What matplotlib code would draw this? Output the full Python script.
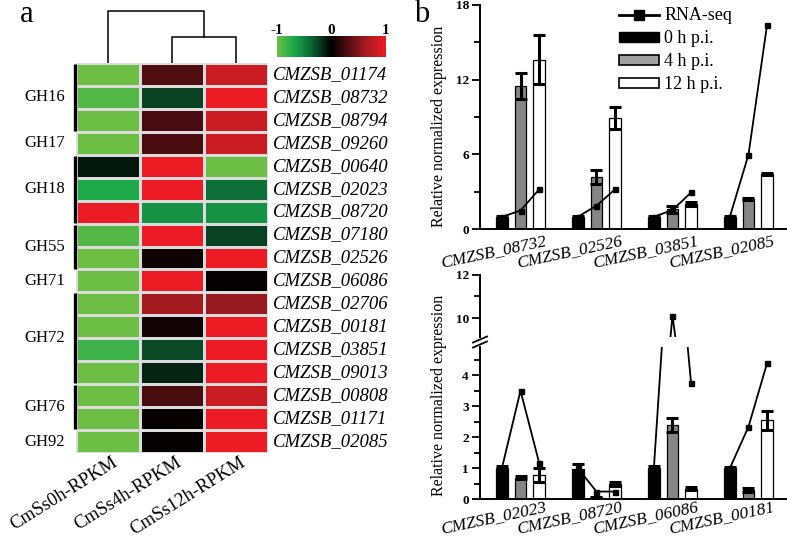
import numpy as np
import matplotlib
matplotlib.use('Agg')
import matplotlib.pyplot as plt
from matplotlib.colors import LinearSegmentedColormap
from matplotlib.lines import Line2D
from matplotlib.patches import Patch
from matplotlib.ticker import MultipleLocator

plt.rcParams['font.family'] = ['Liberation Serif', 'DejaVu Serif']

# ---------------- heatmap data ----------------
genes = ['CMZSB_01174', 'CMZSB_08732', 'CMZSB_08794', 'CMZSB_09260', 'CMZSB_00640',
         'CMZSB_02023', 'CMZSB_08720', 'CMZSB_07180', 'CMZSB_02526', 'CMZSB_06086',
         'CMZSB_02706', 'CMZSB_00181', 'CMZSB_03851', 'CMZSB_09013', 'CMZSB_00808',
         'CMZSB_01171', 'CMZSB_02085']
samples = ['CmSs0h-RPKM', 'CmSs4h-RPKM', 'CmSs12h-RPKM']
heat_0h = [-1, -0.9, -1, -1, -0.08, -0.7, 1, -0.9, -1, -1, -1, -1, -0.82, -1, -1, -1, -1]
heat_4h = [0.3, -0.25, 0.27, 0.28, 1, 1, -0.58, 1, 0.06, 1, 0.62, 0.07, -0.28, -0.13, 0.28, 0.02, 0.02]
heat_12h = [0.82, 1, 0.82, 0.82, -1, -0.42, -0.58, -0.25, 1, 0.01, 0.57, 1, 1, 1, 0.82, 1, 1]
families = ['GH16', 'GH17', 'GH18', 'GH55', 'GH71', 'GH72', 'GH76', 'GH92']
family_sizes = [3, 1, 3, 2, 1, 4, 2, 1]
dendro_low = 0.45   # merge of 4h and 12h
dendro_high = 0.9   # merge with 0h
cbar_ticks = [-1, 0, 1]

# ---------------- bar chart data ----------------
top_genes = ['CMZSB_08732', 'CMZSB_02526', 'CMZSB_03851', 'CMZSB_02085']
top_0h = [1.0, 1.0, 1.0, 1.0]
top_0h_err = [0.1, 0.08, 0.06, 0.08]
top_4h = [11.5, 4.2, 1.6, 2.43]
top_4h_err = [1.05, 0.55, 0.3, 0.08]
top_12h = [13.6, 8.9, 2.0, 4.43]
top_12h_err = [1.95, 0.9, 0.15, 0.08]
top_rna = [[1, 1.5, 3.2], [1, 1.9, 3.2], [1, 1.55, 2.95], [1, 5.98, 16.4]]

bot_genes = ['CMZSB_02023', 'CMZSB_08720', 'CMZSB_06086', 'CMZSB_00181']
bot_0h = [1.0, 0.97, 1.0, 1.0]
bot_0h_err = [0.06, 0.18, 0.06, 0.05]
bot_4h = [0.7, 0.06, 2.39, 0.3]
bot_4h_err = [0.06, 0.03, 0.22, 0.05]
bot_12h = [0.78, 0.5, 0.34, 2.55]
bot_12h_err = [0.22, 0.06, 0.05, 0.31]
bot_rna = [[1, 3.5, 1.18], [1, 0.25, 0.25], [1, 10.12, 3.74], [1, 2.34, 4.39]]

legend_labels = ['RNA-seq', '0 h p.i.', '4 h p.i.', '12 h p.i.']
ylabel = 'Relative normalized expression'

# ---------------- figure ----------------
W, H = 787, 538
fig = plt.figure(figsize=(W / 100, H / 100), dpi=100)


def pax(x0, y0, x1, y1):
    return fig.add_axes([x0 / W, 1 - y1 / H, (x1 - x0) / W, (y1 - y0) / H])


cmap = LinearSegmentedColormap.from_list('gkr', [
    (0.0, '#6DBE45'), (0.15, '#1DAA4B'), (0.3, '#0E6B38'),
    (0.5, '#000000'), (0.8, '#9E1B21'), (1.0, '#ED1C24')])

# heatmap
axh = pax(76, 63, 268, 453)
M = np.array([heat_0h, heat_4h, heat_12h]).T
axh.pcolormesh(M, cmap=cmap, vmin=-1, vmax=1, edgecolors='#dcdcdc', linewidth=0.9)
axh.set_xlim(0, 3)
axh.set_ylim(len(genes), 0)
axh.axis('off')
for i, g in enumerate(genes):
    axh.text(3.08, i + 0.5, g, fontsize=13.5, style='italic', ha='left', va='center')
start = 0
for fam, n in zip(families, family_sizes):
    if n > 1:
        axh.plot([-0.02, -0.02], [start + 0.04, start + n - 0.04], color='black', lw=2.4,
                 clip_on=False, solid_capstyle='butt')
    axh.text(-0.17, start + n / 2, fam, fontsize=12, ha='right', va='center')
    start += n
for j, s in enumerate(samples):
    axh.text(j + 0.56, len(genes) + 0.05, s, fontsize=13.5, rotation=32, ha='right', va='top',
             rotation_mode='anchor')

# dendrogram
axd = pax(76, 5, 268, 63)
axd.set_xlim(0, 3)
axd.set_ylim(0, 1)
axd.axis('off')
dk = dict(color='black', lw=1.1)
axd.plot([1.5, 1.5, 2.5, 2.5], [0, dendro_low, dendro_low, 0], **dk)
axd.plot([0.5, 0.5, 2.0, 2.0], [0, dendro_high, dendro_high, dendro_low], **dk)

# colorbar
axc = pax(277, 36, 386, 57)
axc.imshow(np.linspace(-1, 1, 256)[None, :], aspect='auto', cmap=cmap, extent=[-1, 1, 0, 1])
axc.set_xticks([])
axc.set_yticks([])
for s in axc.spines.values():
    s.set_visible(False)
for t in cbar_ticks:
    axc.text(t, 1.08, str(t), fontsize=11, fontweight='bold', ha='center', va='baseline',
             transform=axc.get_xaxis_transform())

fig.text(27 / W, 1 - 14 / H, 'a', fontsize=22, ha='center', va='center')
fig.text(422 / W, 1 - 14 / H, 'b', fontsize=22, ha='center', va='center')

# ---------------- bar panels ----------------
OFF = 0.245
BW = 0.15
XL = (-0.533, 3.507)
bar_colors = ['black', '#858585', 'white']
AX_L = 480


def style_axis(ax):
    for k in ['top', 'right']:
        ax.spines[k].set_visible(False)
    ax.spines['left'].set_linewidth(1.4)
    ax.spines['bottom'].set_linewidth(1.4)
    ax.tick_params(axis='y', which='major', length=6, width=1.3, labelsize=9.5, pad=2)
    ax.tick_params(axis='y', which='minor', length=4.5, width=1.3)
    ax.set_xticks([])
    for lab in ax.get_yticklabels():
        lab.set_fontweight('bold')


def draw_bars(ax, vals, errs):
    x = np.arange(4)
    for k, (v, e) in enumerate(zip(vals, errs)):
        xx = x + (k - 1) * OFF
        ax.bar(xx, v, width=BW, color=bar_colors[k], edgecolor='black', linewidth=0.9, zorder=2)
        ax.errorbar(xx, v, yerr=e, fmt='none', ecolor='black', elinewidth=2.2, capsize=4.2,
                    capthick=2.2, zorder=3)


def draw_rna(ax, rna):
    for g, r in enumerate(rna):
        ax.plot([g - OFF, g, g + OFF], r, '-s', color='black', lw=1.3, ms=3.6, zorder=4)


def group_labels(ax, names, dy):
    for g, n in enumerate(names):
        ax.annotate(n, xy=(g, 0), xycoords=('data', 'axes fraction'), xytext=(-19.5, dy),
                    textcoords='offset points', ha='center', va='center', rotation=12,
                    fontsize=12.5, style='italic')


# top
axt = pax(AX_L, 4.7, 787, 229.3)
draw_bars(axt, [top_0h, top_4h, top_12h], [top_0h_err, top_4h_err, top_12h_err])
draw_rna(axt, top_rna)
axt.set_xlim(*XL)
axt.set_ylim(0, 18)
axt.yaxis.set_major_locator(MultipleLocator(6))
axt.yaxis.set_minor_locator(MultipleLocator(3))
style_axis(axt)
group_labels(axt, top_genes, -16.5)
handles = [Line2D([], [], color='black', lw=2, marker='s', ms=7),
           Patch(facecolor='black', edgecolor='black'),
           Patch(facecolor='#a0a0a0', edgecolor='black', linewidth=1.2),
           Patch(facecolor='white', edgecolor='black', linewidth=1.2)]
axt.legend(handles, legend_labels, loc='upper left', bbox_to_anchor=(0.43, 1.02), frameon=False,
           fontsize=13, handlelength=2.2, handleheight=0.45, labelspacing=0.33, handletextpad=0.3,
           borderaxespad=0)
fig.text(439 / W, 1 - 126 / H, ylabel, fontsize=11.5, rotation=90, ha='center', va='center')

# bottom (broken axis)
axu = pax(AX_L, 274.7, 787, 337)
axl = pax(AX_L, 347, 787, 499.3)
draw_bars(axl, [bot_0h, bot_4h, bot_12h], [bot_0h_err, bot_4h_err, bot_12h_err])
draw_rna(axl, bot_rna)
draw_rna(axu, bot_rna)
for ax in (axu, axl):
    ax.set_xlim(*XL)
    ax.patch.set_alpha(0)
axl.set_ylim(0, 4.91)
axu.set_ylim(9.14, 12)
axl.yaxis.set_major_locator(MultipleLocator(1))
axl.yaxis.set_minor_locator(MultipleLocator(0.5))
axu.yaxis.set_major_locator(MultipleLocator(2))
axu.yaxis.set_minor_locator(MultipleLocator(1))
style_axis(axl)
style_axis(axu)
axu.spines['bottom'].set_visible(False)
axl.spines['top'].set_visible(False)
group_labels(axl, bot_genes, -13.5)
fig.text(439 / W, 1 - 395 / H, ylabel, fontsize=11.5, rotation=90, ha='center', va='center')
# break marks
for yy in (339.5, 344.5):
    fig.add_artist(Line2D([(AX_L - 7) / W, (AX_L + 7) / W], [1 - (yy + 3) / H, 1 - (yy - 3) / H],
                          color='black', lw=1.3))

fig.savefig('out.png', dpi=100)
